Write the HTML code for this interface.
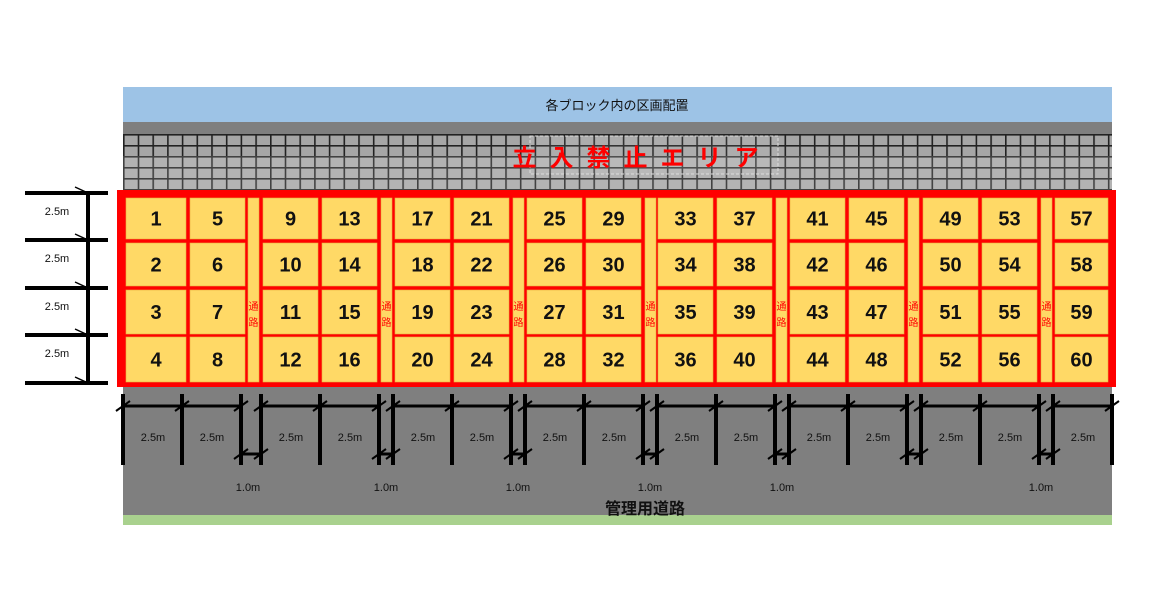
<!DOCTYPE html>
<html><head><meta charset="utf-8"><style>
html,body{margin:0;padding:0;background:#fff}
svg{display:block}
text{font-family:"Liberation Sans","Noto Sans CJK JP",sans-serif}
</style></head><body>
<svg width="1170" height="610" viewBox="0 0 1170 610" xmlns="http://www.w3.org/2000/svg">
<defs>
<pattern id="grid" x="123" y="134" width="14.7" height="11" patternUnits="userSpaceOnUse">
<rect width="14.7" height="11" fill="#222"/>
<rect x="1.6" y="1.6" width="13.1" height="9.4" fill="#a6a6a6"/>
</pattern>
</defs>
<rect x="123" y="87" width="989" height="35" fill="#9dc3e6"/>
<text x="617" y="110" font-size="13" text-anchor="middle" fill="#111">各ブロック内の区画配置</text>
<rect x="123" y="122" width="989" height="13" fill="#7f7f7f"/>
<rect x="123" y="134" width="989" height="58" fill="url(#grid)"/>
<rect x="123" y="156" width="989" height="36" fill="#fff" opacity="0.15"/>
<rect x="530" y="136" width="248" height="38" fill="#fff" fill-opacity="0.08" stroke="#ddd" stroke-dasharray="3,2"/>
<text x="642" y="166" font-size="24" font-weight="bold" text-anchor="middle" fill="#ff0000" letter-spacing="13">立入禁止エリア</text>
<rect x="123" y="387" width="989" height="128" fill="#7f7f7f"/>
<rect x="123" y="515" width="989" height="10" fill="#a9d18e"/>
<rect x="117" y="190" width="999" height="197" fill="#ff0000"/>
<g id="cells" fill="#ffd966" stroke="#e8b040" stroke-width="0.6"></g>
<g id="dims" stroke="#000"></g>
<g id="left" stroke="#000"></g>
<text x="645" y="514" font-size="16" font-weight="bold" text-anchor="middle" fill="#111">管理用道路</text>
</svg>
<script>
const NS="http://www.w3.org/2000/svg";
const svg=document.querySelector('svg');
function el(t,a,p,txt){const e=document.createElementNS(NS,t);for(const k in a)e.setAttribute(k,a[k]);if(txt!==undefined)e.textContent=txt;(p||svg).appendChild(e);return e;}
const cells=document.getElementById('cells');
const rows=[[198,41],[243,43],[290,44],[337,45]];
const starts=[126,263,395,527,658,790,923];
function cell(x,w,n){
  rows.forEach((r,i)=>{
    el('rect',{x:x,y:r[0],width:w,height:r[1]},cells);
    el('text',{x:x+w/2,y:r[0]+r[1]/2+7,'font-size':20,'font-weight':'bold','text-anchor':'middle',fill:'#111'},svg,String(n+i));
  });
}
starts.forEach((s,k)=>{
  const wa = k==0?60:55;
  cell(s,wa,1+8*k);
  const bx = k==0?190:s+59;
  cell(bx,55,5+8*k);
  const cx = k==0?248:s+118;
  el('rect',{x:cx,y:198,width:11,height:184},cells);
  el('text',{x:cx+5.5,y:310,'font-size':10,'text-anchor':'middle',fill:'#ff0000'},svg,'通');
  el('text',{x:cx+5.5,y:326,'font-size':10,'text-anchor':'middle',fill:'#ff0000'},svg,'路');
});
cell(1055,53,57);
const dims=document.getElementById('dims');
const bs=[123,261,393,525,657,789,921];
function vl(x){el('line',{x1:x,y1:394,x2:x,y2:465,'stroke-width':4},dims);}
function tick(x,y){el('line',{x1:x-7,y1:y+5,x2:x+7,y2:y-5,'stroke-width':2},dims);}
bs.forEach((b,k)=>{
  [b,b+59,b+118].forEach(vl);
  el('line',{x1:b,y1:406,x2:b+118,y2:406,'stroke-width':3},dims);
  [b,b+59,b+118].forEach(x=>tick(x,406));
  const nb = k<6?bs[k+1]:1053;
  el('line',{x1:b+118,y1:454,x2:nb,y2:454,'stroke-width':3},dims);
  tick(b+118,454);tick(nb,454);
  el('text',{x:b+30,y:441,'font-size':11,'text-anchor':'middle',fill:'#111'},svg,'2.5m');
  el('text',{x:b+89,y:441,'font-size':11,'text-anchor':'middle',fill:'#111'},svg,'2.5m');
  if(k<5) el('text',{x:b+125,y:491,'font-size':11,'text-anchor':'middle',fill:'#111'},svg,'1.0m');
});
el('text',{x:1041,y:491,'font-size':11,'text-anchor':'middle',fill:'#111'},svg,'1.0m');
vl(1053);vl(1112);
el('line',{x1:1053,y1:406,x2:1112,y2:406,'stroke-width':3},dims);
tick(1053,406);tick(1112,406);
el('text',{x:1083,y:441,'font-size':11,'text-anchor':'middle',fill:'#111'},svg,'2.5m');
const left=document.getElementById('left');
const ys=[193,240,288,335,383];
ys.forEach(y=>{el('line',{x1:25,y1:y,x2:108,y2:y,'stroke-width':4},left);
  el('line',{x1:75,y1:y-6,x2:88,y2:y,'stroke-width':1.5},left);});
el('line',{x1:88,y1:193,x2:88,y2:383,'stroke-width':4},left);
for(let i=0;i<4;i++) el('text',{x:57,y:ys[i]+22,'font-size':11,'text-anchor':'middle',fill:'#111'},svg,'2.5m');
</script>
</body></html>
